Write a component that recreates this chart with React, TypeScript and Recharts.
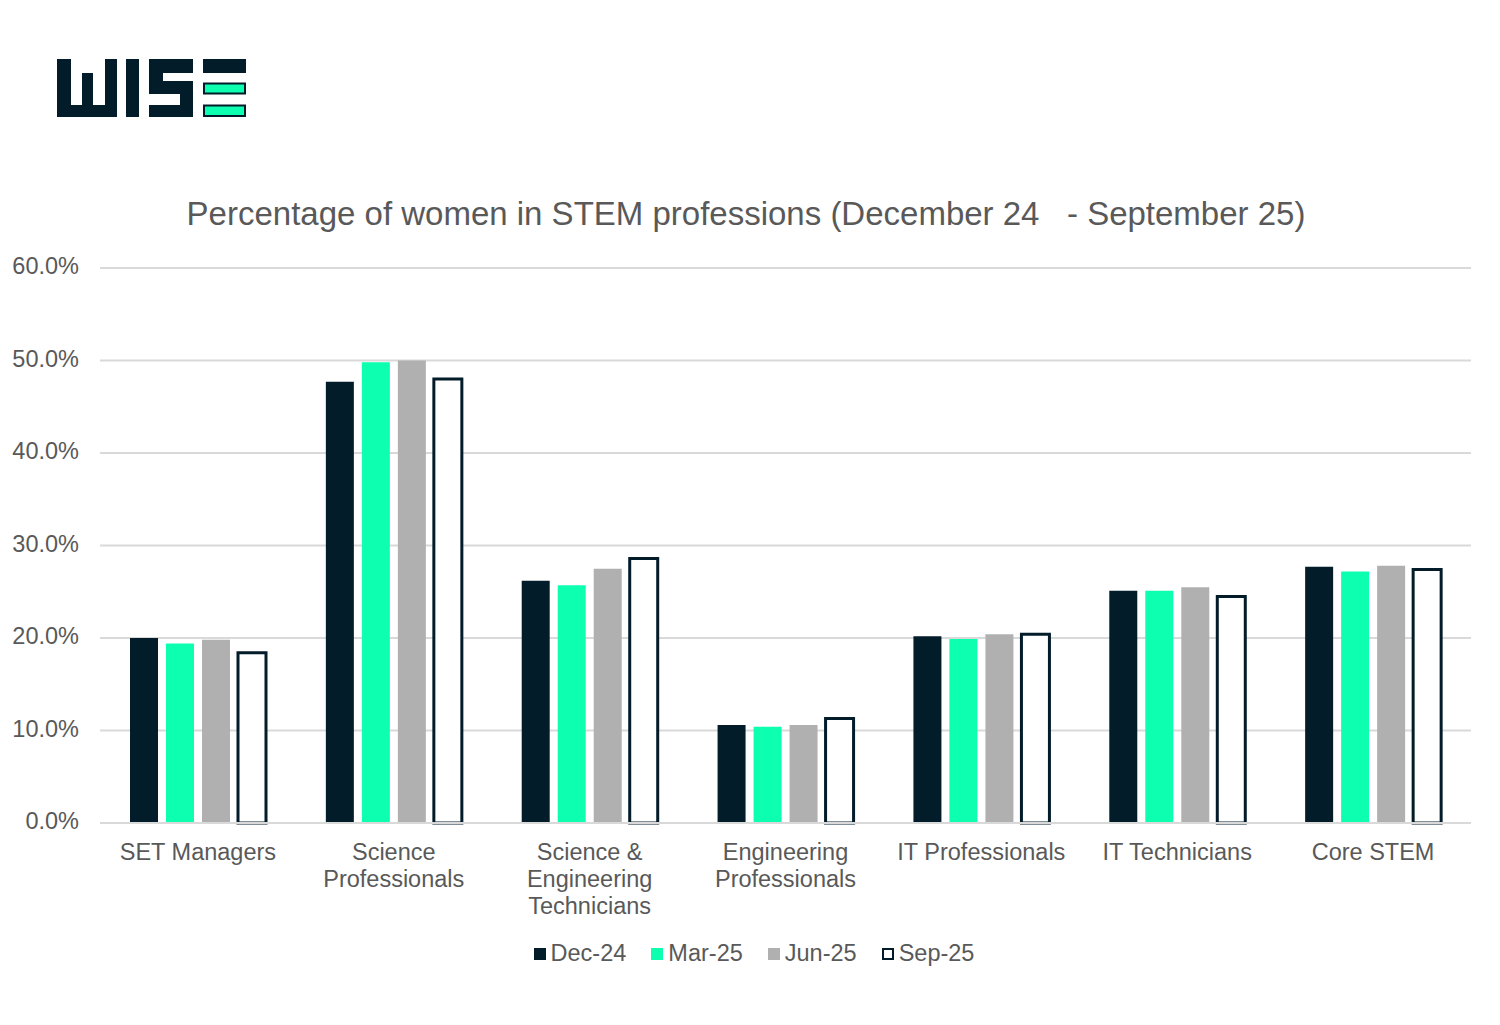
import { BarChart, Bar, XAxis, YAxis, CartesianGrid, Legend } from 'recharts'

const categories = [
  'SET Managers',
  'Science Professionals',
  'Science & Engineering Technicians',
  'Engineering Professionals',
  'IT Professionals',
  'IT Technicians',
  'Core STEM'
]

const tickLines = [
  ['SET Managers'],
  ['Science', 'Professionals'],
  ['Science &', 'Engineering', 'Technicians'],
  ['Engineering', 'Professionals'],
  ['IT Professionals'],
  ['IT Technicians'],
  ['Core STEM']
]

const dec24 = [20.0, 47.7, 26.2, 10.6, 20.2, 25.1, 27.7]
const mar25 = [19.4, 49.8, 25.7, 10.4, 19.9, 25.1, 27.2]
const jun25 = [19.8, 50.0, 27.5, 10.6, 20.4, 25.5, 27.8]
const sep25 = [18.4, 48.0, 28.6, 11.3, 20.4, 24.5, 27.4]

const yTicks = [0, 10, 20, 30, 40, 50, 60]

const DARK = '#031c2a'
const GREEN = '#0dffb0'
const GREY = '#b0b0b0'
const TEXT = '#595959'
const FONT = "Arial, 'Liberation Sans', sans-serif"

const series = [
  { key: 'dec24', name: 'Dec-24', fill: DARK, stroke: 'none' },
  { key: 'mar25', name: 'Mar-25', fill: GREEN, stroke: 'none' },
  { key: 'jun25', name: 'Jun-25', fill: GREY, stroke: 'none' },
  { key: 'sep25', name: 'Sep-25', fill: '#ffffff', stroke: DARK }
]

const data = categories.map((name, i) => ({
  name,
  dec24: dec24[i],
  mar25: mar25[i],
  jun25: jun25[i],
  sep25: sep25[i]
}))

const CategoryTick = (props: any) => {
  const { x, y, payload } = props
  const lines = tickLines[payload.index] || [payload.value]
  return (
    <text x={x} y={y} textAnchor="middle" fill={TEXT} fontSize={23.5} fontFamily={FONT}>
      {lines.map((line, i) => (
        <tspan key={i} x={x} dy={i === 0 ? 35 : 27}>
          {line}
        </tspan>
      ))}
    </text>
  )
}

const LegendContent = () => (
  <div style={{ display: 'flex', justifyContent: 'center', fontFamily: FONT, fontSize: 23.5, color: TEXT, paddingLeft: 8 }}>
    {series.map((s, i) => (
      <div key={s.key} style={{ display: 'flex', alignItems: 'center', marginLeft: i === 0 ? 0 : 25 }}>
        <span
          style={{
            display: 'inline-block',
            boxSizing: 'border-box',
            width: 12,
            height: 12,
            background: s.fill,
            border: s.stroke === 'none' ? 'none' : `2.5px solid ${s.stroke}`,
            marginRight: 5
          }}
        />
        <span>{s.name}</span>
      </div>
    ))}
  </div>
)

const Logo = () => (
  <svg width={260} height={130} style={{ position: 'absolute', left: 0, top: 0 }}>
    <g fill={DARK}>
      {/* W */}
      <rect x={57} y={59} width={14} height={58} />
      <rect x={82} y={73} width={11} height={44} />
      <rect x={105} y={59} width={12} height={58} />
      <rect x={57} y={105} width={60} height={12} />
      {/* I */}
      <rect x={126} y={59} width={13} height={58} />
      {/* S */}
      <rect x={149} y={59} width={44} height={14} />
      <rect x={149} y={59} width={14} height={35} />
      <rect x={149} y={81} width={44} height={13} />
      <rect x={180} y={81} width={13} height={36} />
      <rect x={149} y={105} width={44} height={12} />
      {/* E */}
      <rect x={203} y={59} width={43} height={14} />
    </g>
    <rect x={204} y={83.5} width={41} height={10} fill={GREEN} stroke={DARK} strokeWidth={2} />
    <rect x={204} y={105.5} width={41} height={10.5} fill={GREEN} stroke={DARK} strokeWidth={2} />
  </svg>
)

export default function App() {
  return (
    <div style={{ position: 'absolute', left: 0, top: 0, width: 1500, height: 1025, background: '#fff' }}>
      <Logo />
      <div
        style={{
          position: 'absolute',
          top: 195,
          left: 0,
          width: 1492,
          textAlign: 'center',
          fontFamily: FONT,
          fontSize: 33,
          color: TEXT,
          whiteSpace: 'pre'
        }}
      >
        {'Percentage of women in STEM professions (December 24   - September 25)'}
      </div>
      <BarChart
        width={1500}
        height={1025}
        data={data}
        margin={{ top: 268, right: 29, bottom: 102, left: 10 }}
        barSize={28}
        barGap={8}
      >
        <CartesianGrid vertical={false} stroke="#d9d9d9" strokeWidth={2} />
        <XAxis
          dataKey="name"
          height={100}
          interval={0}
          tickLine={false}
          tickSize={0}
          axisLine={{ stroke: '#d9d9d9', strokeWidth: 2 }}
          tick={<CategoryTick />}
        />
        <YAxis
          width={90}
          domain={[0, 60]}
          ticks={yTicks}
          tickLine={false}
          axisLine={false}
          tickSize={0}
          tickMargin={21}
          tickFormatter={(v: number) => `${v.toFixed(1)}%`}
          tick={{ fill: TEXT, fontSize: 23.5, fontFamily: FONT, dy: -2 }}
        />
        <Legend
          verticalAlign="middle"
          align="center"
          wrapperStyle={{ top: 940, left: 0, width: 1500 }}
          content={<LegendContent />}
        />
        {series.map((s) => (
          <Bar
            key={s.key}
            dataKey={s.key}
            name={s.name}
            fill={s.fill}
            stroke={s.stroke}
            strokeWidth={s.stroke === 'none' ? 0 : 3}
            isAnimationActive={false}
          />
        ))}
      </BarChart>
    </div>
  )
}
